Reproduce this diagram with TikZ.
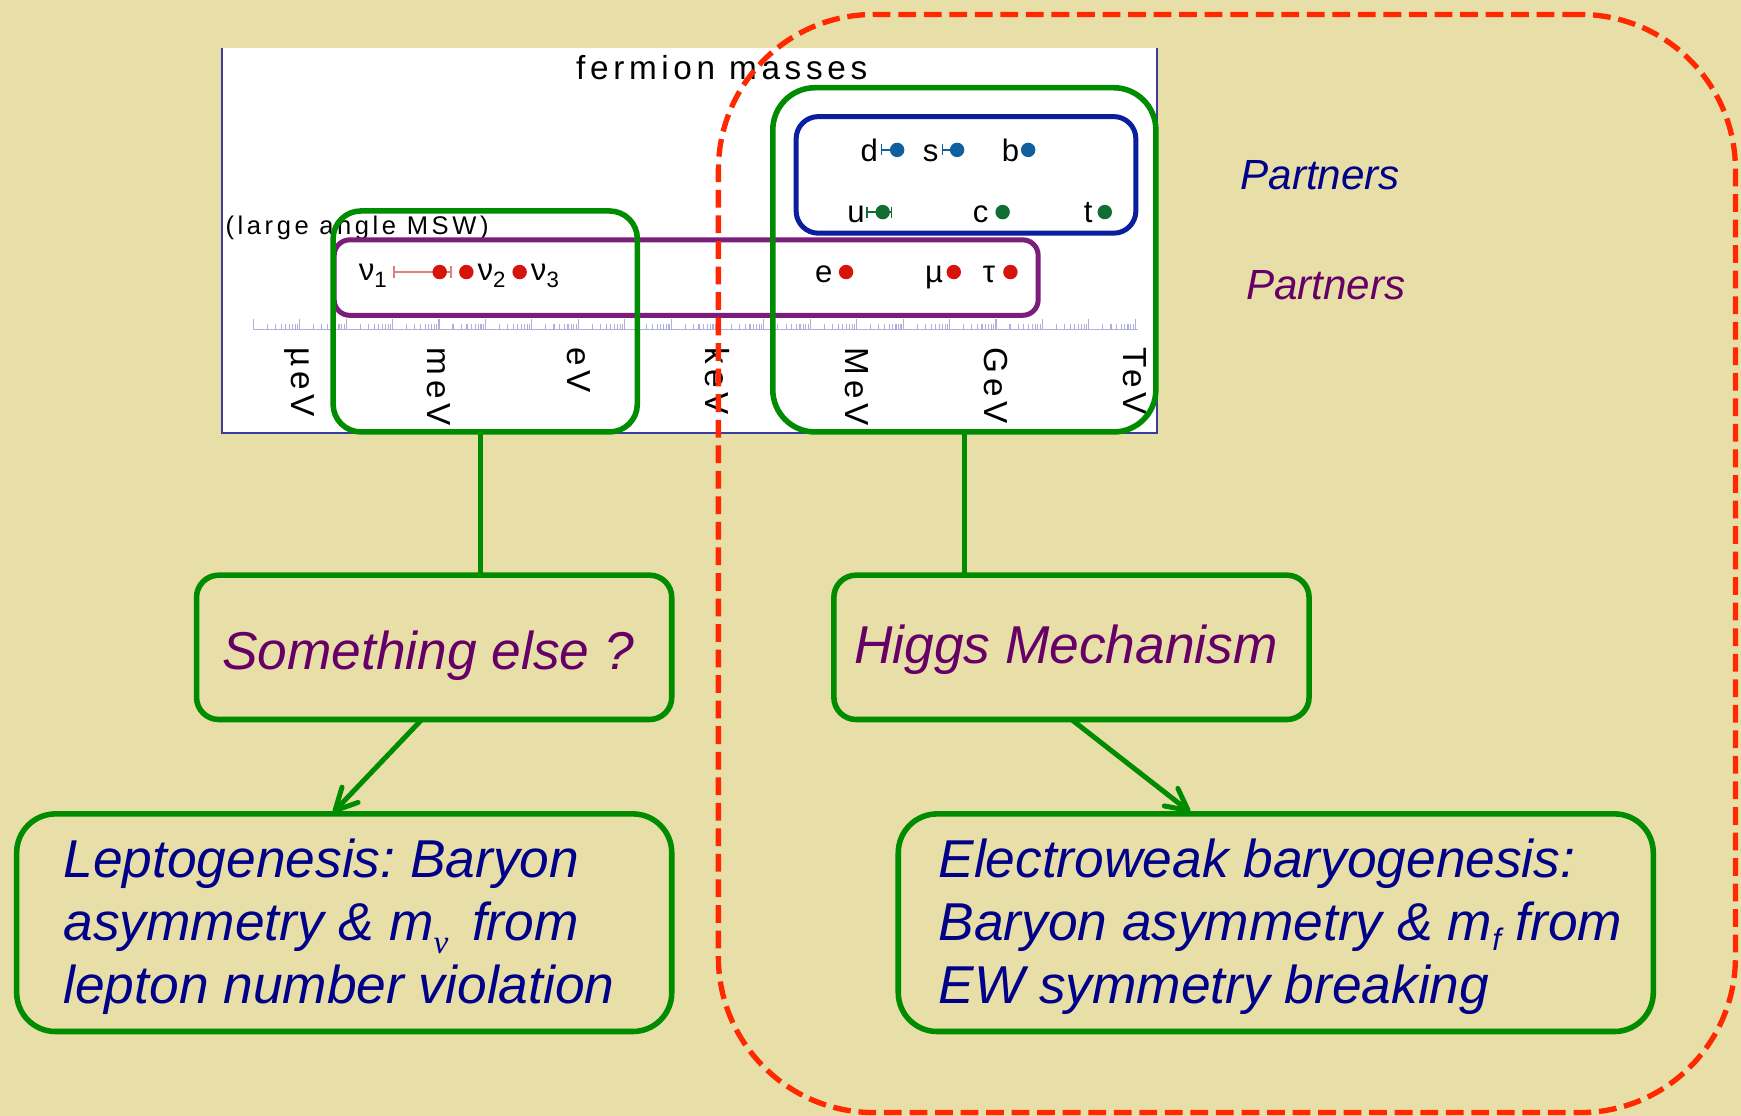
\documentclass[tikz,border=0pt]{standalone}
\usepackage{fontspec}
\setmainfont{Liberation Sans}
\newfontfamily\plotfont[LetterSpace=14]{Liberation Sans}
\newfontfamily\plainsans{Liberation Sans}
\newfontfamily\serifnu{Liberation Serif}
\usetikzlibrary{arrows.meta,calc}
\definecolor{bgtan}{RGB}{232,223,168}
\definecolor{grn}{RGB}{0,140,0}
\definecolor{prp}{RGB}{123,30,122}
\definecolor{blu}{RGB}{10,30,158}
\definecolor{txtprp}{RGB}{102,0,102}
\definecolor{txtblu}{RGB}{0,0,136}
\definecolor{dashred}{RGB}{255,40,0}
\definecolor{axiscol}{RGB}{176,176,220}
\definecolor{dotred}{RGB}{215,20,10}
\definecolor{dotblu}{RGB}{16,96,160}
\definecolor{dotgrn}{RGB}{16,110,50}
\definecolor{barred}{RGB}{224,128,128}
\definecolor{plotframe}{RGB}{60,60,160}
\tikzset{
  gbox/.style={draw=grn, line width=5pt, inner sep=0pt, outer sep=0pt},
  pbox/.style={draw=prp, line width=4.5pt, inner sep=0pt, outer sep=0pt, rounded corners=14pt},
  bbox/.style={draw=blu, line width=4.5pt, inner sep=0pt, outer sep=0pt, rounded corners=20pt},
  gline/.style={draw=grn, line width=4.5pt},
  barb/.style={draw=grn, line width=4.5pt, line cap=round, line join=round},
  ptxt/.style={font={\plotfont\fontsize{30}{36}\selectfont}, inner sep=0pt, text=black},
  smalltxt/.style={font={\plotfont\fontsize{23}{27}\selectfont}, inner sep=0pt, text=black},
  axlab/.style={font={\plotfont\fontsize{30}{36}\selectfont}, inner sep=0pt, text=black, rotate=-90, anchor=west},
  plab/.style={font={\plainsans\fontsize{28}{32}\selectfont}, inner sep=0pt, text=black, anchor=base west},
  bigtxt/.style={font={\frenchspacing\itshape\fontsize{48}{57}\selectfont}, inner sep=0pt, anchor=base west},
  parttxt/.style={font={\itshape\fontsize{38}{44}\selectfont}, inner sep=0pt, anchor=base west},
  axis/.style={draw=axiscol, line width=1pt},
}
\newcommand{\nusub}[1]{{\fontsize{20}{20}\selectfont\raisebox{-6pt}{#1}}}
\begin{document}
\begin{tikzpicture}[x=1pt,y=-1pt]
\useasboundingbox (0,0) rectangle (1568,1005);
\fill[bgtan] (0,0) rectangle (1568,1005);
% plot panel
\fill[white] (200,43) rectangle (1042,390);
\draw[plotframe, line width=1.2pt] (200,43) -- (200,390) -- (1042,390) -- (1042,43);
\node[ptxt, anchor=base] (fm) at (650,72) {fermion masses};
\node[smalltxt, anchor=base west] (msw) at (203,211) {(large angle MSW)};
% axis
\draw[axis] (228,297) -- (1025,297);
\foreach \d in {-7,...,11} {
  \draw[axis] ({270+41.8*(\d+6)},297) -- ++(0,-10);
  \foreach \k in {2,...,9} \draw[axis] ({270+41.8*(\d+6+log10(\k))},297) -- ++(0,-5);
}
\draw[axis] ({270+41.8*18},297) -- ++(0,-10);
\node[axlab] (l1) at (270,313) {µeV};
\node[axlab] (l2) at (395,313) {meV};
\node[axlab] (l3) at (521,313) {eV};
\node[axlab] (l4) at (646,313) {keV};
\node[axlab] (l5) at (772,313) {MeV};
\node[axlab] (l6) at (897,313) {GeV};
\node[axlab] (l7) at (1022,313) {TeV};
% neutrinos
\draw[barred, line width=1.3pt] (355,245) -- (406,245) (355,240) -- (355,250) (406,240) -- (406,250);
\fill[dotred] (396,245) circle[radius=6.5pt];
\fill[dotred] (420,245) circle[radius=6.5pt];
\fill[dotred] (468,245) circle[radius=6.5pt];
\node[plab] (nu1) at (323,253) {ν\nusub{1}};
\node[plab] (nu2) at (430,253) {ν\nusub{2}};
\node[plab] (nu3) at (478,253) {ν\nusub{3}};
% charged leptons
\node[plab] (le) at (734,254) {e};
\fill[dotred] (762,245) circle[radius=6.5pt];
\node[plab] (lmu) at (833,254) {µ};
\fill[dotred] (859,245) circle[radius=6.5pt];
\node[plab] (ltau) at (885,254) {τ};
\fill[dotred] (910,245) circle[radius=6.5pt];
% down quarks
\node[plab] (ld) at (775,145) {d};
\draw[dotblu, line width=1.3pt] (794,135) -- (808,135) (794,130) -- (794,140);
\fill[dotblu] (808,135) circle[radius=6.5pt];
\node[plab] (ls) at (831,145) {s};
\draw[dotblu, line width=1.3pt] (849,135) -- (862,135) (849,130) -- (849,140);
\fill[dotblu] (862,135) circle[radius=6.5pt];
\node[plab] (lb) at (902,145) {b};
\fill[dotblu] (926,135) circle[radius=6.5pt];
% up quarks
\node[plab] (lu) at (763,200) {u};
\draw[dotgrn, line width=1.3pt] (781,191) -- (803,191) (781,186) -- (781,196) (803,186) -- (803,196);
\fill[dotgrn] (795,191) circle[radius=6.5pt];
\node[plab] (lc) at (876,200) {c};
\fill[dotgrn] (903,191) circle[radius=6.5pt];
\node[plab] (lt) at (976,200) {t};
\fill[dotgrn] (995,191) circle[radius=6.5pt];
% boxes on plot
\node[pbox, minimum width=634pt, minimum height=68pt] (pb) at (618,250) {};
\node[bbox, minimum width=306pt, minimum height=105pt] (bb) at (870,157.5) {};
\node[gbox, rounded corners=25pt, minimum width=274pt, minimum height=199pt] (g1) at (437,289.5) {};
\node[gbox, rounded corners=38pt, minimum width=345pt, minimum height=310pt] (g2) at (868.5,234) {};
% partners
\node[parttxt, text=txtblu] (pt1) at (1117,171) {Partners};
\node[parttxt, text=txtprp] (pt2) at (1122,270) {Partners};
% lower boxes
\node[gbox, rounded corners=20pt, minimum width=428pt, minimum height=130pt] (se) at (391,583) {};
\node[gbox, rounded corners=35pt, minimum width=590pt, minimum height=196pt] (lep) at (310,831) {};
\node[gbox, rounded corners=20pt, minimum width=428pt, minimum height=130pt] (hig) at (965,583) {};
\node[gbox, rounded corners=35pt, minimum width=680pt, minimum height=196pt] (ew) at (1149,831) {};
\node[bigtxt, text=txtprp] (tse) at (200,603) {Something else ?};
\node[bigtxt, text=txtprp] (thig) at (769,598) {Higgs Mechanism};
\node[bigtxt, text=txtblu] (tl1) at (57,790) {Leptogenesis: Baryon};
\node[bigtxt, text=txtblu] (tl2) at (57,847) {asymmetry \& m{\serifnu\itshape\fontsize{30}{30}\selectfont\raisebox{-12pt}{ν}}\hspace{8pt} from};
\node[bigtxt, text=txtblu] (tl3) at (57,904) {lepton number violation};
\node[bigtxt, text=txtblu] (te1) at (845,790) {Electroweak baryogenesis:};
\node[bigtxt, text=txtblu] (te2) at (845,847) {Baryon asymmetry \& m{\fontsize{28}{28}\selectfont\raisebox{-9pt}{f}} from};
\node[bigtxt, text=txtblu] (te3) at (845,904) {EW symmetry breaking};
% connectors
\draw[gline] ($(g1.south)+(-4,0)$) -- ($(g1.south |- se.north)+(-4,0)$);
\draw[gline] (g2.south) -- (g2.south |- hig.north);
\coordinate (a1s) at ($(se.south west)!0.474!(se.south east)$);
\coordinate (a1e) at ($(lep.north west)!0.486!(lep.north east)+(0,-3)$);
\coordinate (a2s) at (hig.south);
\coordinate (a2e) at ($(ew.north west)!0.384!(ew.north east)+(0,-3)$);
\draw[gline] (a1s) -- (a1e);
\draw[barb] ($(a1e)!22pt!27:(a1s)$) -- (a1e) -- ($(a1e)!22pt!-27:(a1s)$);
\draw[gline] (a2s) -- (a2e);
\draw[barb] ($(a2e)!22pt!27:(a2s)$) -- (a2e) -- ($(a2e)!22pt!-27:(a2s)$);
% red dashed region
\node[draw=dashred, line width=4.8pt, dash pattern=on 16pt off 7pt, rounded corners=140pt, inner sep=0pt, minimum width=916pt, minimum height=989pt] (rd) at (1105,507.5) {};
\end{tikzpicture}
\end{document}
